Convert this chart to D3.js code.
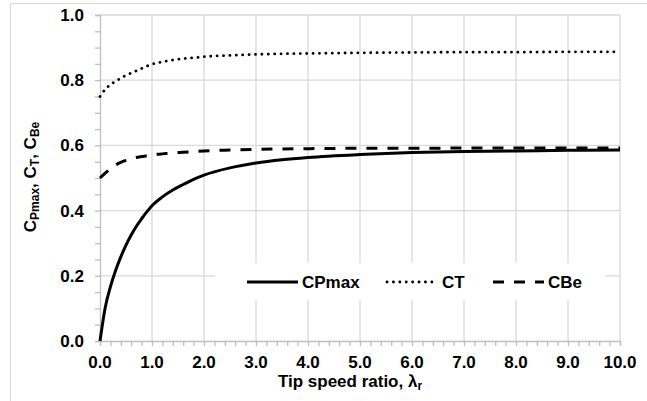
<!DOCTYPE html>
<html>
<head>
<meta charset="utf-8">
<script src="https://d3js.org/d3.v7.min.js"></script>
<style>
  body { margin: 0; background: #fff; }
  text { font-family: "Liberation Sans", Arial, sans-serif; font-weight: bold; fill: #000; }
</style>
</head>
<body>
<div id="chart"></div>
<script>
// values
var lambda = [0, 0.1, 0.2, 0.3, 0.4, 0.5, 0.6, 0.7, 0.8, 0.9, 1.0, 1.2, 1.4, 1.6, 1.8, 2.0, 2.5, 3.0, 3.5, 4.0, 5.0, 6.0, 7.0, 8.0, 9.0, 10.0];
var cpmax = [0, 0.102, 0.166, 0.216, 0.258, 0.294, 0.325, 0.352, 0.375, 0.396, 0.415, 0.442, 0.463, 0.48, 0.496, 0.509, 0.531, 0.546, 0.556, 0.563, 0.572, 0.578, 0.581, 0.583, 0.585, 0.586];
var ct = [0.75, 0.772, 0.786, 0.797, 0.806, 0.815, 0.822, 0.829, 0.836, 0.843, 0.849, 0.856, 0.862, 0.866, 0.869, 0.872, 0.876, 0.879, 0.881, 0.882, 0.884, 0.885, 0.886, 0.886, 0.887, 0.887];
var cbe = [0.5, 0.515, 0.528, 0.54, 0.548, 0.554, 0.559, 0.563, 0.566, 0.568, 0.571, 0.574, 0.577, 0.579, 0.581, 0.583, 0.586, 0.588, 0.589, 0.59, 0.591, 0.591, 0.592, 0.592, 0.592, 0.592];
var xTicks = [0, 1, 2, 3, 4, 5, 6, 7, 8, 9, 10];
var yTicks = [0, 0.2, 0.4, 0.6, 0.8, 1.0];
var seriesNames = ['CPmax', 'CT', 'CBe'];

var width = 647, height = 401;
var svg = d3.select("#chart").append("svg")
  .attr("width", width)
  .attr("height", height);

// outer chart frame
svg.append("rect")
  .attr("x", 10.5).attr("y", 3.5)
  .attr("width", 700).attr("height", 500)
  .attr("fill", "none")
  .attr("stroke", "#d9d9d9");

var x = d3.scaleLinear().domain([0, 10]).range([100, 620]);
var y = d3.scaleLinear().domain([0, 1]).range([341, 15]);

// grid
svg.append("g")
  .selectAll("line")
  .data(xTicks.slice(1))
  .enter().append("line")
  .attr("x1", d => x(d)).attr("x2", d => x(d))
  .attr("y1", y(0)).attr("y2", y(1))
  .attr("stroke", "#d9d9d9").attr("stroke-width", 1.3);

svg.append("g")
  .selectAll("line")
  .data(yTicks.slice(1))
  .enter().append("line")
  .attr("x1", x(0)).attr("x2", x(10))
  .attr("y1", d => y(d)).attr("y2", d => y(d))
  .attr("stroke", "#d9d9d9").attr("stroke-width", 1.3);

// axes with minor ticks
var xAxis = svg.append("g")
  .attr("transform", "translate(0," + y(0) + ")")
  .call(d3.axisBottom(x).tickValues(d3.range(0, 10.01, 0.2)).tickSize(5).tickFormat(""));
var yAxis = svg.append("g")
  .attr("transform", "translate(" + x(0) + ",0)")
  .call(d3.axisLeft(y).tickValues(d3.range(0, 1.001, 0.05)).tickSize(5).tickFormat(""));
[xAxis, yAxis].forEach(function (a) {
  a.select(".domain").attr("stroke", "#bfbfbf").attr("stroke-width", 1.3);
  a.selectAll(".tick line").attr("stroke", "#bfbfbf").attr("stroke-width", 1.3);
});

svg.append("g")
  .selectAll("text")
  .data(xTicks)
  .enter().append("text")
  .attr("x", d => x(d))
  .attr("y", 368)
  .attr("text-anchor", "middle")
  .attr("font-size", 17)
  .text(d => d.toFixed(1));

svg.append("g")
  .selectAll("text")
  .data(yTicks)
  .enter().append("text")
  .attr("x", 84)
  .attr("y", d => y(d) + 6)
  .attr("text-anchor", "end")
  .attr("font-size", 17)
  .text(d => d.toFixed(1));

// axis titles
var xt = svg.append("text")
  .attr("x", 350).attr("y", 387)
  .attr("text-anchor", "middle")
  .attr("font-size", 17);
xt.append("tspan").text("Tip speed ratio, λ");
xt.append("tspan").attr("font-size", 12).attr("dy", 3).text("r");

var yt = svg.append("text")
  .attr("transform", "translate(36,177) rotate(-90)")
  .attr("text-anchor", "middle")
  .attr("font-size", 17);
yt.append("tspan").text("C");
yt.append("tspan").attr("font-size", 12).attr("dy", 3).text("Pmax");
yt.append("tspan").attr("dy", -3).text(", C");
yt.append("tspan").attr("font-size", 12).attr("dy", 3).text("T");
yt.append("tspan").attr("dy", -3).text(", C");
yt.append("tspan").attr("font-size", 12).attr("dy", 3).text("Be");

// series
var styles = [
  { values: cpmax, dash: null, width: 3, cap: "butt" },
  { values: ct, dash: "0.1,6.3", width: 2.8, cap: "round" },
  { values: cbe, dash: "11,10", width: 3, cap: "butt" }
];

var line = d3.line()
  .x((d, i) => x(lambda[i]))
  .y(d => y(d))
  .curve(d3.curveMonotoneX);

styles.forEach(function (s) {
  svg.append("path")
    .datum(s.values)
    .attr("d", line)
    .attr("fill", "none")
    .attr("stroke", "#000")
    .attr("stroke-width", s.width)
    .attr("stroke-linecap", s.cap)
    .attr("stroke-dasharray", s.dash);
});

// legend
svg.append("rect")
  .attr("x", 215).attr("y", 263)
  .attr("width", 390).attr("height", 37)
  .attr("fill", "#fff");

var legendX = [247, 387, 493];
var legend = svg.append("g")
  .selectAll("g")
  .data(seriesNames)
  .enter().append("g")
  .attr("transform", (d, i) => "translate(" + legendX[i] + ",282)");
legend.append("line")
  .attr("x1", 0).attr("x2", 51)
  .attr("stroke", "#000")
  .attr("stroke-width", (d, i) => styles[i].width)
  .attr("stroke-linecap", (d, i) => styles[i].cap)
  .attr("stroke-dasharray", (d, i) => styles[i].dash);
legend.append("text")
  .attr("x", 55).attr("y", 6)
  .attr("font-size", 17)
  .text(d => d);
</script>
</body>
</html>
